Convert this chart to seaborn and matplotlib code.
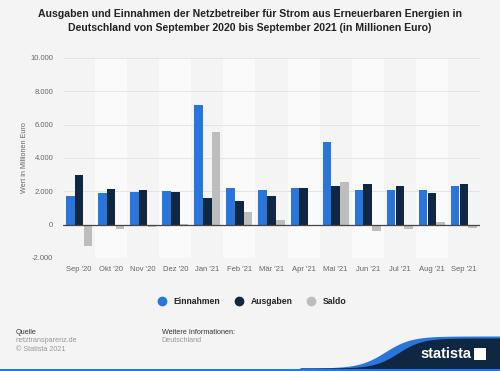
import numpy as np
import pandas as pd
import matplotlib.pyplot as plt
import seaborn as sns
from matplotlib.lines import Line2D
from matplotlib.ticker import FuncFormatter

# -----------------------------------
# Data (Millionen Euro)
# -----------------------------------

months = ["Sep '20", "Okt '20", "Nov '20", "Dez '20", "Jan '21", "Feb '21", "Mär '21",
          "Apr '21", "Mai '21", "Jun '21", "Jul '21", "Aug '21", "Sep '21"]
einnahmen = [1700, 1900, 1980, 2020, 7180, 2220, 2100, 2180, 4960, 2100, 2100, 2100, 2300]
ausgaben = [2960, 2140, 2100, 1940, 1580, 1420, 1740, 2180, 2340, 2460, 2300, 1900, 2460]
saldo = [-1300, -260, -140, 40, 5560, 780, 300, 0, 2560, -400, -240, 160, -200]

series = ["Einnahmen", "Ausgaben", "Saldo"]
colors = ["#2876dd", "#0f2741", "#bdbdbd"]

df = pd.DataFrame({"Monat": months, "Einnahmen": einnahmen,
                   "Ausgaben": ausgaben, "Saldo": saldo})
long_df = df.melt(id_vars="Monat", var_name="Serie", value_name="Wert")

# -----------------------------------
# Figure
# -----------------------------------

bg = "#f4f4f4"
sns.set_theme(style="white")
plt.rcParams["font.family"] = ["Liberation Sans", "DejaVu Sans"]

fig = plt.figure(figsize=(5, 3.71), dpi=100, facecolor=bg)
ax = fig.add_axes([0.126, 0.3046, 0.834, 0.5391])
ax.set_facecolor(bg)

for i in range(len(months)):
    if i % 2 == 1:
        ax.axvspan(i - 0.5, i + 0.5, color="#fafafa", zorder=0, lw=0)

sns.barplot(data=long_df, x="Monat", y="Wert", hue="Serie", hue_order=series,
            palette=colors, width=0.82, gap=0.03, saturation=1, linewidth=0,
            legend=False, ax=ax, zorder=3)

ax.set_ylim(-2000, 10000)
ax.set_xlim(-0.5, len(months) - 0.5)
ax.set_yticks(range(-2000, 10001, 2000))
ax.yaxis.set_major_formatter(FuncFormatter(lambda v, p: f"{int(v):,}".replace(",", ".")))
ax.grid(axis="y", color="#e2e2e2", lw=0.6, zorder=1)
ax.axhline(0, color="#444444", lw=0.9, zorder=4)
for s in ax.spines.values():
    s.set_visible(False)
ax.tick_params(axis="both", length=0, labelsize=5.5, labelcolor="#666666")
ax.tick_params(axis="x", pad=6)
ax.tick_params(axis="y", pad=7)
ax.set_xlabel("")
ax.set_ylabel("Wert in Millionen Euro", fontsize=5.2, color="#666666", labelpad=2)

fig.suptitle("Ausgaben und Einnahmen der Netzbetreiber für Strom aus Erneuerbaren Energien in\n"
             "Deutschland von September 2020 bis September 2021 (in Millionen Euro)",
             x=0.5, y=0.975, fontsize=7.6, fontweight="bold", color="#222222", linespacing=1.5)

handles = [Line2D([], [], marker="o", ls="", markersize=6, color=c) for c in colors]
fig.legend(handles, series, loc="center", bbox_to_anchor=(0.5, 0.188), ncol=3,
           frameon=False, prop={"size": 6.2, "weight": "bold"}, handletextpad=0.3,
           columnspacing=1.2, labelcolor="#222222")

# -----------------------------------
# Footer
# -----------------------------------

fig.text(0.032, 0.104, "Quelle", fontsize=5.2, color="#333333", va="center")
fig.text(0.032, 0.081, "netztransparenz.de", fontsize=5.2, color="#999999", va="center")
fig.text(0.032, 0.059, "© Statista 2021", fontsize=5.2, color="#999999", va="center")
fig.text(0.323, 0.104, "Weitere Informationen:", fontsize=5.2, color="#333333", va="center")
fig.text(0.323, 0.081, "Deutschland", fontsize=5.2, color="#999999", va="center")

deco = fig.add_axes([0, 0, 1, 1], zorder=-1)
deco.set_xlim(0, 500)
deco.set_ylim(371, 0)
deco.axis("off")
xs = np.linspace(300, 500, 200)
blue_edge = 368 - 32 / (1 + np.exp(-(xs - 385) / 13))
navy_edge = 368 - 30 / (1 + np.exp(-(xs - 398) / 12))
deco.fill_between(xs, blue_edge, 371, color="#2876dd", lw=0)
deco.fill_between(xs, navy_edge, 371, color="#0f2741", lw=0)
deco.fill_between([0, 500], 369, 371, color="#2876dd", lw=0)
deco.text(446, 354, "statista", fontsize=10.5, color="white", fontweight="bold",
          ha="center", va="center")
deco.fill([474, 486, 486, 474], [348, 348, 360, 360], color="white", lw=0)
deco.fill([474, 486, 474], [360, 348, 360], color="#0f2741", lw=0)

fig.savefig("out.png", dpi=100, facecolor=bg)
